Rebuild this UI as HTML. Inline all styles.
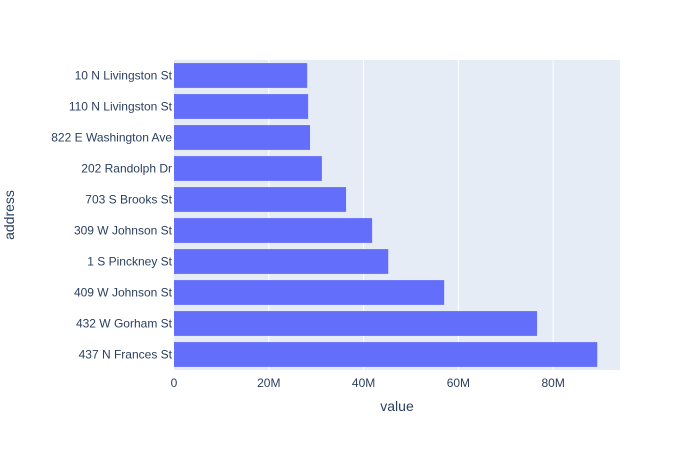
<!DOCTYPE html>
<html><head><meta charset="utf-8"><style>
body{margin:0;background:#fff;font-family:"Liberation Sans",Arial,sans-serif}
svg text{fill:#2a3f5f;font-family:"Liberation Sans",Arial,sans-serif}
</style></head><body>
<svg id="c" width="700" height="450"></svg>
<script>
const categories=["10 N Livingston St","110 N Livingston St","822 E Washington Ave","202 Randolph Dr","703 S Brooks St","309 W Johnson St","1 S Pinckney St","409 W Johnson St","432 W Gorham St","437 N Frances St"];
const values=[28.1,28.3,28.7,31.2,36.3,41.8,45.2,57.0,76.6,89.3];
const xTicks=[0,20,40,60,80];
const xTickLabels=["0","20M","40M","60M","80M"];
const NS="http://www.w3.org/2000/svg";
const svg=document.getElementById('c');
const L=174,R=620,T=60,B=370,XMAX=94.1;
const x=v=>L+v/XMAX*(R-L);
const band=(B-T)/categories.length;
const y=i=>T+i*band;
function mk(t,a,p){const e=document.createElementNS(NS,t);for(const k in a)e.setAttribute(k,a[k]);(p||svg).appendChild(e);return e;}
const bg=mk('rect',{x:L,y:T,width:R-L,height:B-T,fill:'#E5ECF6'});


xTicks.forEach((t,i)=>{
  if(t>0){const g=mk('line',{x1:x(t),x2:x(t),y1:T,y2:B,stroke:'#fff','stroke-width':1});
  
  }
  const tx=mk('text',{x:x(t),y:B+17,'text-anchor':'middle','font-size':12});
  tx.textContent=xTickLabels[i];
  
  
});
categories.forEach((c,i)=>{
  const r=mk('rect',{x:L,y:y(i)+band*0.1,width:x(values[i])-L,height:band*0.8,fill:'#636efa'});
  
  
  const tx=mk('text',{x:L-2,y:y(i)+band/2+4,'text-anchor':'end','font-size':12});
  tx.textContent=c;
  
  
});
const xt=mk('text',{x:(L+R)/2,y:411,'text-anchor':'middle','font-size':14});
xt.textContent='value';


const yt=mk('text',{x:14,y:(T+B)/2,'text-anchor':'middle','font-size':14,transform:`rotate(-90 14 ${(T+B)/2})`});
yt.textContent='address';


</script>
</body></html>
